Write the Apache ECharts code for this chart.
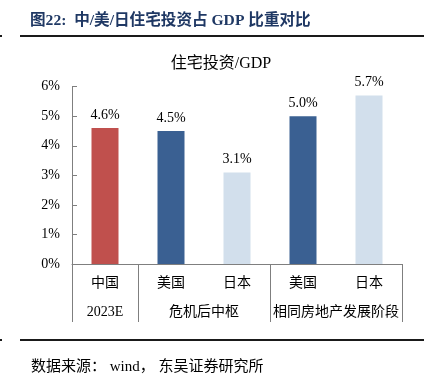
<!DOCTYPE html>
<html>
<head>
<meta charset="utf-8">
<script src="https://cdn.jsdelivr.net/npm/echarts@6/dist/echarts.min.js"></script>
<style>html,body{margin:0;padding:0;background:#fff}#c{width:424px;height:379px}</style>
</head>
<body>
<div id="c"></div>
<script>
const categories = ['中国', '美国', '日本', '美国', '日本'];
const groupLabels = ['', '2023E', '', '', '危机后中枢', '', '', '', '相同房地产发展阶段', '', ''];
const values = [4.6, 4.5, 3.1, 5.0, 5.7];
const barColors = ['#C0504D', '#3A6092', '#D2DFEC', '#3A6092', '#D2DFEC'];
const yTicks = [0, 1, 2, 3, 4, 5, 6];

const SERIF = '"Liberation Serif","Noto Sans CJK SC",serif';
const chart = echarts.init(document.getElementById('c'));
chart.setOption({
  animation: false,
  backgroundColor: '#fff',
  grid: { left: 72, right: 22, top: 86.7, bottom: 115, containLabel: false },
  xAxis: [
    {
      type: 'category', data: categories, position: 'bottom',
      axisLine: { show: true, lineStyle: { color: '#7f7f7f', width: 1 } },
      axisTick: { show: false },
      axisLabel: { margin: 12, fontSize: 14, color: '#000', fontFamily: SERIF }
    },
    {
      type: 'category', data: groupLabels, position: 'bottom', boundaryGap: false,
      axisLine: { show: false },
      axisTick: { show: true, length: 58, lineStyle: { color: '#7f7f7f' },
        interval: function (i) { return [0, 2, 6, 10].indexOf(i) >= 0; } },
      axisLabel: { margin: 41, fontSize: 14, color: '#000', fontFamily: SERIF, interval: 0 }
    }
  ],
  yAxis: {
    type: 'value', min: yTicks[0], max: yTicks[yTicks.length - 1], interval: 1,
    axisLine: { show: true, lineStyle: { color: '#7f7f7f' } },
    axisTick: { show: true, inside: true, length: 5, lineStyle: { color: '#7f7f7f' } },
    splitLine: { show: false },
    axisLabel: { formatter: '{value}%', margin: 12, fontSize: 14, color: '#000', fontFamily: SERIF }
  },
  series: [{
    type: 'bar', xAxisIndex: 0, barWidth: 27,
    data: values.map((v, i) => ({ value: v, itemStyle: { color: barColors[i] } })),
    label: { show: true, position: 'top', distance: 6, fontSize: 14, color: '#000', fontFamily: SERIF,
      formatter: p => p.value.toFixed(1) + '%' }
  }],
  graphic: [
    { type: 'text', left: 30, top: 13, style: { text: '图22:  中/美/日住宅投资占 GDP 比重对比', fill: '#1F3864', font: 'bold 15.6px ' + SERIF } },
    { type: 'rect', shape: { x: 20, y: 35, width: 404, height: 2 }, style: { fill: '#1a1a1a' } },
    { type: 'rect', shape: { x: 0, y: 35, width: 2, height: 2 }, style: { fill: '#1a1a1a' } },
    { type: 'text', x: 221, y: 64, style: { text: '住宅投资/GDP', font: '16px ' + SERIF, fill: '#000', textAlign: 'center', textVerticalAlign: 'middle' } },
    { type: 'rect', shape: { x: 20, y: 339, width: 404, height: 2 }, style: { fill: '#1a1a1a' } },
    { type: 'rect', shape: { x: 0, y: 339, width: 2, height: 2 }, style: { fill: '#1a1a1a' } },
    { type: 'text', x: 31, y: 367, style: { text: '数据来源： wind， 东吴证券研究所', font: '15px ' + SERIF, fill: '#000', textVerticalAlign: 'middle' } }
  ]
});
</script>
</body>
</html>
